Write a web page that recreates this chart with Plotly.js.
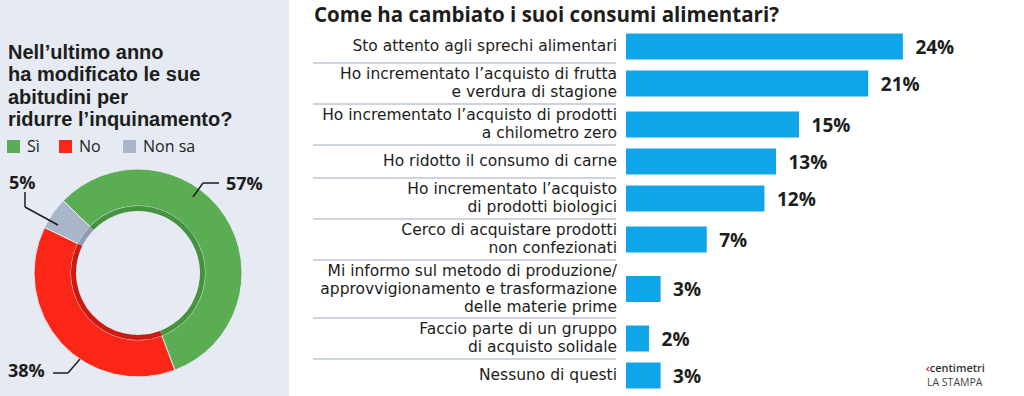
<!DOCTYPE html>
<html>
<head>
<meta charset="utf-8">
<script src="https://cdn.plot.ly/plotly-3.0.1.min.js"></script>
<style>
  html, body { margin: 0; padding: 0; background: #ffffff; }
  #chart { width: 1024px; height: 396px; }
</style>
</head>
<body>
<div id="chart"></div>
<script>
// ---------- DATA ----------
const pieTitleLines = ["Nell’ultimo anno", "ha modificato le sue", "abitudini per", "ridurre l’inquinamento?"];
const pieLabels = ["Sì", "No", "Non sa"];
const pieValues = [57, 38, 5];
const pieColors = ["#5aad52", "#fb2617", "#a9b5c8"];
const pieInnerColors = ["#46923f", "#cc1a10", "#8e9bb0"];

const barTitle = "Come ha cambiato i suoi consumi alimentari?";
const barLabels = [
  "Sto attento agli sprechi alimentari",
  "Ho incrementato l’acquisto di frutta<br>e verdura di stagione",
  "Ho incrementato l’acquisto di prodotti<br>a chilometro zero",
  "Ho ridotto il consumo di carne",
  "Ho incrementato l’acquisto<br>di prodotti biologici",
  "Cerco di acquistare prodotti<br>non confezionati",
  "Mi informo sul metodo di produzione/<br>approvvigionamento e trasformazione<br>delle materie prime",
  "Faccio parte di un gruppo<br>di acquisto solidale",
  "Nessuno di questi"
];
const barValues = [24, 21, 15, 13, 12, 7, 3, 2, 3];
const barColor = "#10a5e8";

// ---------- LAYOUT HELPERS ----------
const W = 1024, H = 396;
const px = x => x / W;
const py = y => 1 - y / H;
const FONT = '"Open Sans", "Noto Sans", sans-serif';
const TICKFONT = '"DejaVu Sans", "Open Sans", sans-serif';
const TITLEFONT = '"Liberation Sans", Arial, sans-serif';
const DARK = "#1d1d1b";
// multi-line text: leading from a base size, glyphs drawn at given size
const bigLines = (txt, size) => txt.split("<br>")
  .map(l => '<span style="font-size:' + size + 'px">' + l + '</span>').join("<br>");

// rows of the bar chart sized by number of label lines
const yTop = 30;
let cursor = yTop;
const centers = [], bounds = [];
barLabels.forEach((lab, i) => {
  const n = lab.split("<br>").length;
  const h = n === 1 ? 33 : 17 * n + 7;
  centers.push(cursor + h / 2);
  cursor += h;
  if (i < barLabels.length - 1) bounds.push(cursor);
});
const yBot = cursor;

// ---------- TRACES ----------
const outerPie = {
  type: "pie",
  values: pieValues,
  labels: pieLabels,
  marker: { colors: pieColors, line: { color: "#e5eaf3", width: 1 } },
  hole: 0.644,
  sort: false,
  direction: "clockwise",
  rotation: -46,
  textinfo: "none",
  hoverinfo: "skip",
  showlegend: false,
  domain: { x: [px(34), px(242)], y: [py(377), py(169)] }
};
const innerRing = {
  type: "pie",
  values: pieValues,
  labels: pieLabels,
  marker: { colors: pieInnerColors, line: { width: 0 } },
  hole: 0.925,
  sort: false,
  direction: "clockwise",
  rotation: -46,
  textinfo: "none",
  hoverinfo: "skip",
  showlegend: false,
  domain: { x: [px(71), px(205)], y: [py(340), py(206)] }
};
const bars = {
  type: "bar",
  orientation: "h",
  x: barValues,
  y: centers,
  width: 26,
  marker: { color: barColor },
  texttemplate: "\u2002%{x}%",
  textposition: "outside",
  textfont: { family: FONT, size: 19, color: DARK, weight: 700 },
  cliponaxis: false,
  hoverinfo: "skip",
  showlegend: false,
  xaxis: "x",
  yaxis: "y"
};

// ---------- SHAPES & ANNOTATIONS ----------
const shapes = [
  { type: "rect", xref: "paper", yref: "paper", x0: 0, x1: px(289), y0: 0, y1: 1,
    fillcolor: "#e5eaf3", line: { width: 0 }, layer: "below" }
];
bounds.forEach(b => shapes.push({
  type: "line", xref: "paper", yref: "y", x0: px(313), x1: px(616), y0: b, y1: b,
  line: { color: "#9ea9bb", width: 1.2 }, layer: "below"
}));
// legend squares
const legendX = [7, 59, 123];
pieLabels.forEach((lab, i) => shapes.push({
  type: "rect", xref: "paper", yref: "paper",
  x0: px(legendX[i]), x1: px(legendX[i] + 13), y0: py(153), y1: py(140),
  fillcolor: pieColors[i], line: { width: 0 }
}));
// leader lines
const leaderStyle = { color: DARK, width: 1.5 };
function leader(pts) {
  for (let i = 0; i < pts.length - 1; i++) {
    shapes.push({ type: "line", xref: "paper", yref: "paper",
      x0: px(pts[i][0]), y0: py(pts[i][1]), x1: px(pts[i + 1][0]), y1: py(pts[i + 1][1]),
      line: leaderStyle });
  }
}
leader([[193, 197], [203, 183], [219, 183]]);
leader([[25, 192], [25, 207], [58, 225]]);
leader([[53, 373], [68, 373], [80, 359]]);

const annotations = [];
// left question: base size 17.2 -> 22.4px leading, glyphs 20px
annotations.push({
  text: bigLines(pieTitleLines.join("<br>"), 20), xref: "paper", yref: "paper",
  x: px(6), y: py(38.5), xanchor: "left", yanchor: "top", align: "left", showarrow: false,
  font: { family: TITLEFONT, size: 17.2, color: DARK, weight: 700 }
});
pieLabels.forEach((lab, i) => annotations.push({
  text: lab, xref: "paper", yref: "paper", x: px(legendX[i] + 18), y: py(146),
  xanchor: "left", yanchor: "middle", showarrow: false,
  font: { family: FONT, size: 16, color: DARK }
}));
// slice value labels
const sliceLabelPos = [[224, 183], [6, 370], [7, 182]];
pieValues.forEach((v, i) => annotations.push({
  text: v + "%", xref: "paper", yref: "paper",
  x: px(sliceLabelPos[i][0]), y: py(sliceLabelPos[i][1]),
  xanchor: "left", yanchor: "middle", showarrow: false,
  font: { family: FONT, size: 18, color: DARK, weight: 700 }
}));
annotations.push({
  text: barTitle, xref: "paper", yref: "paper", x: px(312), y: py(14),
  xanchor: "left", yanchor: "middle", showarrow: false,
  font: { family: FONT, size: 20.5, color: DARK, weight: 700 }
});
annotations.push({
  text: '<span style="color:#d9001b">‹</span>centimetri', xref: "paper", yref: "paper",
  x: px(924), y: py(367), xanchor: "left", yanchor: "middle", showarrow: false,
  font: { family: FONT, size: 11, color: "#333333", weight: 600 }
});
annotations.push({
  text: "LA STAMPA", xref: "paper", yref: "paper",
  x: px(925), y: py(382), xanchor: "left", yanchor: "middle", showarrow: false,
  font: { family: FONT, size: 10.5, color: "#444444" }
});

const layout = {
  width: W, height: H,
  margin: { l: 0, r: 0, t: 0, b: 0 },
  paper_bgcolor: "#ffffff",
  plot_bgcolor: "rgba(0,0,0,0)",
  showlegend: false,
  xaxis: { domain: [px(626), 1], range: [0, 34.5], visible: false, fixedrange: true },
  yaxis: {
    domain: [py(yBot), py(yTop)],
    range: [yBot, yTop],
    tickvals: centers,
    ticktext: barLabels.map(l => bigLines(l, 15.5)),
    ticks: "", showgrid: false, zeroline: false, showline: false,
    ticklabelstandoff: 8,
    tickfont: { family: TICKFONT, size: 13.9, color: DARK },
    fixedrange: true
  },
  shapes: shapes,
  annotations: annotations
};

Plotly.newPlot("chart", [outerPie, innerRing, bars], layout, { displayModeBar: false, staticPlot: true });
</script>
</body>
</html>
